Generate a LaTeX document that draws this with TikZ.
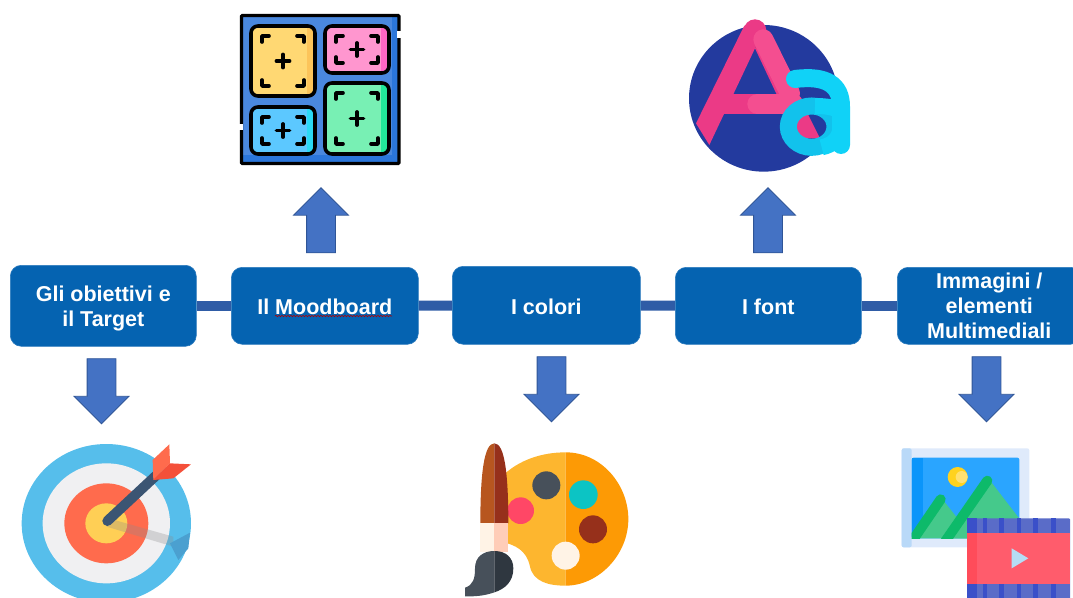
\documentclass[tikz,border=0pt]{standalone}
\usepackage{fontspec}
\setmainfont{Liberation Sans}
\usetikzlibrary{shapes.arrows,decorations.pathmorphing,backgrounds}
\definecolor{boxblue}{HTML}{0563B1}
\definecolor{linkblue}{HTML}{2F5CA6}
\definecolor{arrowblue}{HTML}{4472C4}
\definecolor{arrowedge}{HTML}{2F5597}
\tikzset{
  stepbox/.style={draw=boxblue!85!white,line width=0.6pt,fill=boxblue,rounded corners=11pt,text=white,
    font=\fontsize{21.5}{25}\selectfont\bfseries,align=center,inner sep=0pt,anchor=north west},
  link/.style={linkblue,line width=10pt},
  blockarrow/.style={single arrow,draw=arrowedge,line width=0.8pt,fill=arrowblue,inner xsep=14pt,inner ysep=0pt,
    minimum height=65pt,minimum width=54pt,single arrow head extend=13pt,single arrow head indent=0pt},
  tileline/.style={draw=black,line width=3.6pt,rounded corners=7pt}
}
\newcommand{\tile}[6]{%
  \fill[#5,rounded corners=7pt] (#1,#2) rectangle (#3,#4);
  \begin{scope}
    \clip[rounded corners=7pt] (#1,#2) rectangle (#3,#4);
    \fill[#6] (#3-8,#2) rectangle (#3,#4);
  \end{scope}
  \draw[tileline] (#1,#2) rectangle (#3,#4);
  \draw[black,line width=3.6pt,line cap=round,line join=round]
    (#1+11,#2+16) -- (#1+11,#2+10) -- (#1+18,#2+10)
    (#3-18,#2+10) -- (#3-11,#2+10) -- (#3-11,#2+16)
    (#1+11,#4-16) -- (#1+11,#4-10) -- (#1+18,#4-10)
    (#3-18,#4-10) -- (#3-11,#4-10) -- (#3-11,#4-16);
  \draw[black,line width=3.8pt,line cap=round]
    ({(#1+#3)/2-6.5},{(#2+#4)/2}) -- ({(#1+#3)/2+6.5},{(#2+#4)/2})
    ({(#1+#3)/2},{(#2+#4)/2-6.5}) -- ({(#1+#3)/2},{(#2+#4)/2+6.5});
}
\begin{document}
\begin{tikzpicture}[x=1pt,y=-1pt]
\useasboundingbox (0,0) rectangle (1073,597);
\clip (0,0) rectangle (1073,597);

% process boxes
\node[stepbox,minimum width=186pt,minimum height=81pt] (b1) at (10,265) {\rule{0pt}{21pt}Gli obiettivi e\\il Target};
\node[stepbox,minimum width=187pt,minimum height=77pt] (b2) at (231,267) {\rule{0pt}{18pt}Il Moodboard};
\node[stepbox,minimum width=188pt,minimum height=78pt] (b3) at (452,266) {\rule{0pt}{18pt}I colori};
\node[stepbox,minimum width=186pt,minimum height=77pt] (b4) at (675,267) {\rule{0pt}{18pt}I font};
\node[stepbox,minimum width=184pt,minimum height=77pt] (b5) at (897,267) {Immagini /\\elementi\\Multimediali};
\begin{scope}[on background layer]
\draw[link] (b1) -- (b2);
\draw[link] (b2) -- (b3);
\draw[link] (b3) -- (b4);
\draw[link] (b4) -- (b5);
\end{scope}
\coordinate (sqa) at (275,316);
\coordinate (sqb) at (392,316);
\draw[red!70!black,line width=0.6pt,decorate,decoration={snake,amplitude=0.7pt,segment length=3pt}] (sqa) -- (sqb);

% block arrows
\node[blockarrow,shape border rotate=90] (up1) at (321,227.5) {};
\node[blockarrow,shape border rotate=90] (up2) at (768,227.5) {};
\node[blockarrow,shape border rotate=270] (dn1) at (101.5,384) {};
\node[blockarrow,shape border rotate=270] (dn2) at (551.5,382) {};
\node[blockarrow,shape border rotate=270] (dn3) at (986.5,382) {};

% moodboard icon
\definecolor{mbback}{HTML}{4A88DE}
\definecolor{mbdark}{HTML}{2B76DA}
\fill[mbback] (240,15) rectangle (400,164);
\fill[mbdark] (392,15) rectangle (400,164);
\fill[mbdark] (240,155) rectangle (400,164);
\draw[black,line width=3.4pt,rounded corners=1pt] (241.5,15.5) rectangle (399,163.5);
\fill[white] (397,31) rectangle (401,38);
\fill[white] (238,124) rectangle (243,130);
\definecolor{tyA}{HTML}{FFD873}\definecolor{tyB}{HTML}{FCC45A}
\definecolor{tpA}{HTML}{FF96CF}\definecolor{tpB}{HTML}{FF66C4}
\definecolor{tcA}{HTML}{5CC8FF}\definecolor{tcB}{HTML}{2BD9F5}
\definecolor{tgA}{HTML}{78F0B4}\definecolor{tgB}{HTML}{22E89A}
\tile{251}{26}{315}{96}{tyA}{tyB}
\tile{325}{26}{389}{73}{tpA}{tpB}
\tile{251}{107}{315}{154}{tcA}{tcB}
\tile{325}{83}{389}{154}{tgA}{tgB}

% font icon
\begin{scope}[shift={(680,10)},scale=1/3]
\definecolor{fnavy}{HTML}{233A9E}
\definecolor{fpink}{HTML}{EB3A86}
\definecolor{fpinkl}{HTML}{F44E90}
\definecolor{fcy}{HTML}{10D2F7}
\definecolor{fcyd}{HTML}{12C2EC}
\fill[fnavy] (251,265) ellipse (224 and 220);
\fill[fpink] (225,62) circle (34);
\fill[fpink] (193,47) -- (48,340) -- (88,405) -- (225,115) -- (258,65) -- cycle;
\fill[fpink] (255,55) -- (420,385) -- (352,385) -- (225,115) -- cycle;
\fill[fpink] (130,252) rectangle (340,312);
\draw[fpinkl,line width=20pt,line cap=round] (250,88) -- (330,250);
\draw[fpinkl,line width=20pt,line cap=round] (232,282) -- (340,282);
\draw[fcyd,line width=17pt] (395,350) ellipse (70 and 62);
\draw[fcy,line width=18pt,line cap=round] (345,207) .. controls (440,195) and (483,225) .. (483,290) -- (483,405);
\draw[fcy,line width=16pt] (405,288) .. controls (440,288) and (465,292) .. (483,305);
\draw[fcy,line width=16pt] (483,350) .. controls (478,385) and (460,405) .. (425,412);
\end{scope}

% target icon
\begin{scope}[shift={(10,435)},scale=1/3]
\definecolor{tgSky}{HTML}{56BEEB}
\definecolor{tgPale}{HTML}{F0F0F2}
\definecolor{tgRed}{HTML}{FF6B4D}
\definecolor{tgYel}{HTML}{FFCF55}
\definecolor{tgShaft}{HTML}{3B5573}
\definecolor{tgTip}{HTML}{F4503A}
\definecolor{tgSh}{HTML}{4BA0D0}
\fill[tgSky] (289,265) ellipse (254 and 238);
\fill[tgPale] (289,265) ellipse (191 and 180);
\fill[tgRed] (289,265) ellipse (126 and 120);
\fill[tgYel] (289,265) ellipse (63 and 60);
\fill[black!45,opacity=0.3] (296,250) -- (490,305) -- (490,335) -- (290,275) -- cycle;
\fill[tgSh] (480,325) -- (540,293) -- (535,340) -- (505,375) -- cycle;
\draw[tgShaft,line width=10pt,line cap=round] (292,258) -- (440,120);
\fill[tgRed] (428,75) -- (478,28) -- (480,85) -- (430,135) -- cycle;
\fill[tgTip] (480,85) -- (543,88) -- (490,130) -- (430,135) -- cycle;
\end{scope}

% palette icon
\begin{scope}[shift={(455,435)},scale=1/3]
\definecolor{palL}{HTML}{FDB62F}
\definecolor{palR}{HTML}{FD9A05}
\definecolor{spDark}{HTML}{47505A}
\definecolor{spTeal}{HTML}{0CC4C4}
\definecolor{spBrown}{HTML}{96301B}
\definecolor{spCream}{HTML}{FFF3E6}
\definecolor{spPink}{HTML}{FF4766}
\definecolor{brL}{HTML}{B7561F}
\definecolor{feR}{HTML}{FFCDB8}
\definecolor{brDk}{HTML}{2F3740}
\fill[palL] (332,52) .. controls (260,52) and (190,75) .. (140,125) -- (140,320)
  .. controls (180,330) and (215,345) .. (225,395) .. controls (235,440) and (280,452) .. (332,452) -- cycle;
\fill[palR] (332,52) .. controls (440,52) and (520,150) .. (520,252) .. controls (520,360) and (430,452) .. (332,452) -- cycle;
\fill[spDark] (274,151) circle (42);
\fill[spTeal] (385,179) circle (43);
\fill[spBrown] (414,283) circle (42);
\fill[spCream] (332,362) circle (42);
\fill[spPink] (197,227) circle (40);
\fill[brL] (118,25) .. controls (88,25) and (76,110) .. (76,265) -- (118,265) -- cycle;
\fill[spBrown] (118,25) .. controls (148,25) and (160,110) .. (160,265) -- (118,265) -- cycle;
\fill[spCream] (76,265) rectangle (118,352);
\fill[feR] (118,265) rectangle (160,352);
\fill[spDark] (118,348) .. controls (85,348) and (60,365) .. (60,400) .. controls (60,430) and (55,450) .. (30,458) -- (30,484) .. controls (70,485) and (95,480) .. (118,472) -- cycle;
\fill[brDk] (118,348) .. controls (155,348) and (175,370) .. (175,400) .. controls (175,440) and (150,462) .. (118,472) -- cycle;
\end{scope}

% media icon
\begin{scope}[shift={(890,440)},scale=1/3]
\definecolor{fr}{HTML}{DFEAFB}
\definecolor{frL}{HTML}{B9D9F8}
\definecolor{sky}{HTML}{2AA5FF}
\definecolor{skyD}{HTML}{0A95FA}
\definecolor{mtn}{HTML}{45C98B}
\definecolor{mtnD}{HTML}{0DBA6A}
\definecolor{sunA}{HTML}{FFD21F}
\definecolor{sunB}{HTML}{FFE070}
\definecolor{filmL}{HTML}{5A6CC8}
\definecolor{filmD}{HTML}{3A50C9}
\definecolor{filmR}{HTML}{FF5C6C}
\definecolor{filmS}{HTML}{FF4C5A}
\definecolor{play}{HTML}{B5DDF5}
\fill[fr,rounded corners=2pt] (35,25) rectangle (418,322);
\fill[frL,rounded corners=2pt] (35,25) rectangle (65,322);
\fill[sky,rounded corners=2pt] (65,53) rectangle (388,295);
\fill[skyD] (65,53) rectangle (98,295);
\fill[sunA] (203,111) circle (30);
\fill[sunB] (215,111) circle (18);
\begin{scope}
\clip (65,53) rectangle (388,295);
\fill[mtn] (72,295) -- (155,175) -- (250,295) -- cycle;
\fill[mtn] (160,295) -- (295,115) -- (395,245) -- (395,295) -- cycle;
\draw[mtnD,line width=10pt,line cap=round] (152,178) -- (72,295);
\draw[mtnD,line width=10pt,line cap=round] (292,122) -- (165,305);
\end{scope}
\fill[filmL,rounded corners=1pt] (232,235) rectangle (540,490);
\fill[filmR] (232,278) rectangle (540,432);
\fill[filmS] (232,278) rectangle (262,432);
\foreach \xs/\xe in {232/262,278/292,328/343,380/393,430/445,482/497}{
  \fill[filmD] (\xs,235) rectangle (\xe,278);
  \fill[filmD] (\xs,432) rectangle (\xe,490);
}
\fill[play] (365,325) -- (415,355) -- (365,385) -- cycle;
\end{scope}
\end{tikzpicture}
\end{document}
